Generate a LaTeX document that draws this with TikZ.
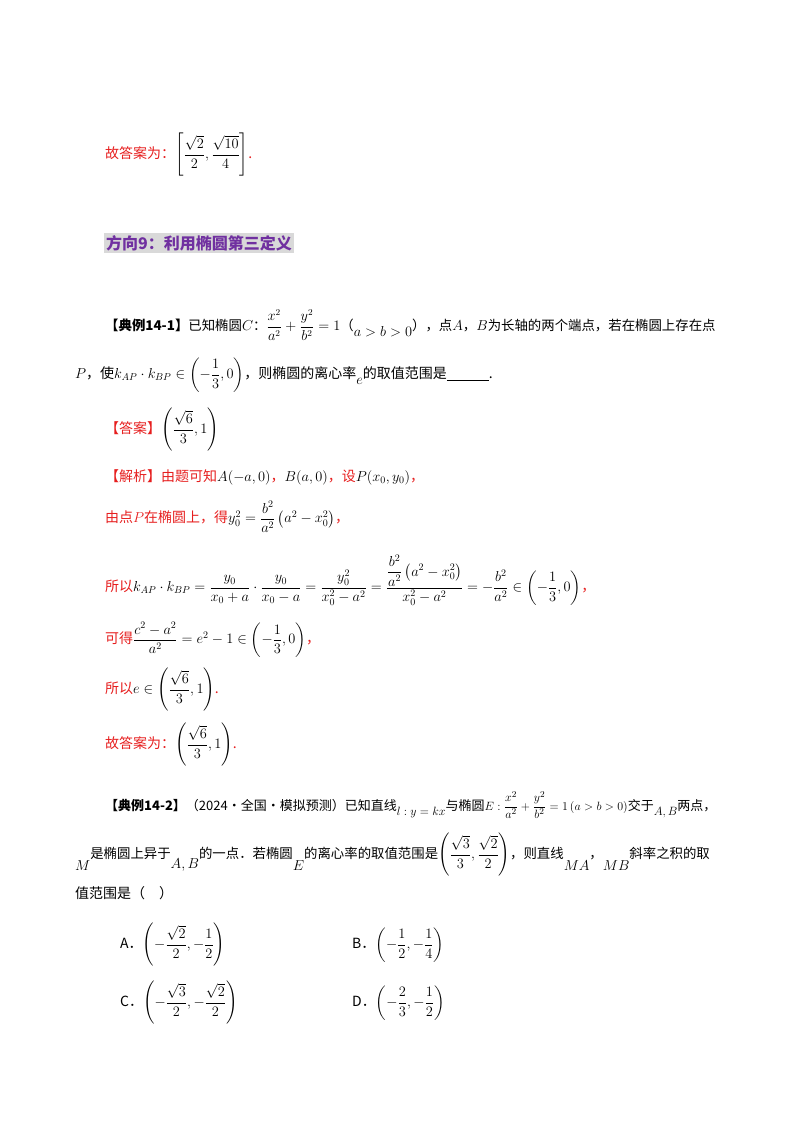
\documentclass[tikz,border=0pt]{standalone}
\usepackage{amsmath}
\usepackage{fontspec}
\newfontfamily\cjk{Noto Sans CJK SC}
\definecolor{ansred}{RGB}{230,30,30}
\definecolor{titpurple}{RGB}{112,48,160}
\definecolor{titgray}{RGB}{217,217,217}
\begin{document}
\begin{tikzpicture}[x=1pt,y=-1pt,
  txt/.style={anchor=west,inner sep=0pt,font=\fontsize{14}{16}\selectfont\cjk},
  red/.style={txt,text=ansred}]
\useasboundingbox (0,0) rectangle (800,1132);
\node[red] (l1) at (105,155) {故答案为：\color{black}$\left[\dfrac{\sqrt2}{2},\dfrac{\sqrt{10}}{4}\right]$\color{ansred}.};
\node[txt,fill=titgray,text=titpurple,font=\fontsize{16}{18}\selectfont\cjk\bfseries,inner sep=2pt] (tit) at (104,243) {方向9：利用椭圆第三定义};
\node[txt,font=\fontsize{13.4}{16}\selectfont\cjk] (p1) at (105,325) {\textbf{【典例14-1】}已知椭圆$C$：$\dfrac{x^2}{a^2}+\dfrac{y^2}{b^2}=1$（\raisebox{-6pt}{$a>b>0$}），点$A$，$B$为长轴的两个端点，若在椭圆上存在点};
\node[txt] (p2) at (75,375) {$P$，使$k_{AP}\cdot k_{BP}\in\left(-\dfrac13,0\right)$，则椭圆的离心率\raisebox{-6pt}{$e$}的取值范围是\underline{\hspace{3em}}.};
\node[red] (ans) at (105,430) {【答案】\color{black}$\left(\dfrac{\sqrt6}{3},1\right)$};
\node[red] (j1) at (105,477) {【解析】由题可知\color{black}$A(-a,0)$\color{ansred}，\color{black}$B(a,0)$\color{ansred}，设\color{black}$P(x_0,y_0)$\color{ansred}，};
\node[red] (j2) at (105,517) {由点$P$在椭圆上，得\color{black}$y_0^2=\dfrac{b^2}{a^2}\left(a^2-x_0^2\right)$\color{ansred}，};
\node[red] (j3) at (105,580) {所以\color{black}$k_{AP}\cdot k_{BP}=\dfrac{y_0}{x_0+a}\cdot\dfrac{y_0}{x_0-a}=\dfrac{y_0^2}{x_0^2-a^2}=\dfrac{\dfrac{b^2}{a^2}\left(a^2-x_0^2\right)}{x_0^2-a^2}=-\dfrac{b^2}{a^2}\in\left(-\dfrac13,0\right)$\color{ansred}，};
\node[red] (j4) at (105,640) {可得\color{black}$\dfrac{c^2-a^2}{a^2}=e^2-1\in\left(-\dfrac13,0\right)$\color{ansred}，};
\node[red] (j5) at (105,690) {所以\color{black}$e\in\left(\dfrac{\sqrt6}{3},1\right)$\color{ansred}.};
\node[red] (j6) at (105,745) {故答案为：\color{black}$\left(\dfrac{\sqrt6}{3},1\right)$\color{ansred}.};
\node[txt,font=\fontsize{13}{16}\selectfont\cjk] (q1) at (105,805) {\textbf{【典例14-2】}（2024·全国·模拟预测）已知直线\raisebox{-5pt}{$l:y=kx$}与椭圆$E:\dfrac{x^2}{a^2}+\dfrac{y^2}{b^2}=1\left(a>b>0\right)$交于\raisebox{-5pt}{$A,B$}两点，};
\node[txt,font=\fontsize{13.4}{16}\selectfont\cjk] (q2) at (75,855) {\raisebox{-12pt}{$M$}是椭圆上异于\raisebox{-10pt}{$A,B$}的一点．若椭圆\raisebox{-12pt}{$E$}的离心率的取值范围是$\left(\dfrac{\sqrt3}{3},\dfrac{\sqrt2}{2}\right)$，则直线\raisebox{-12pt}{$MA$}，\raisebox{-12pt}{$MB$}斜率之积的取};
\node[txt] (q3) at (75,893) {值范围是（\quad）};
\node[txt] (oa) at (120,945) {A．$\left(-\dfrac{\sqrt2}{2},-\dfrac12\right)$};
\node[txt] (ob) at (352,945) {B．$\left(-\dfrac12,-\dfrac14\right)$};
\node[txt] (oc) at (120,1003) {C．$\left(-\dfrac{\sqrt3}{2},-\dfrac{\sqrt2}{2}\right)$};
\node[txt] (od) at (352,1003) {D．$\left(-\dfrac23,-\dfrac12\right)$};
\end{tikzpicture}
\end{document}
